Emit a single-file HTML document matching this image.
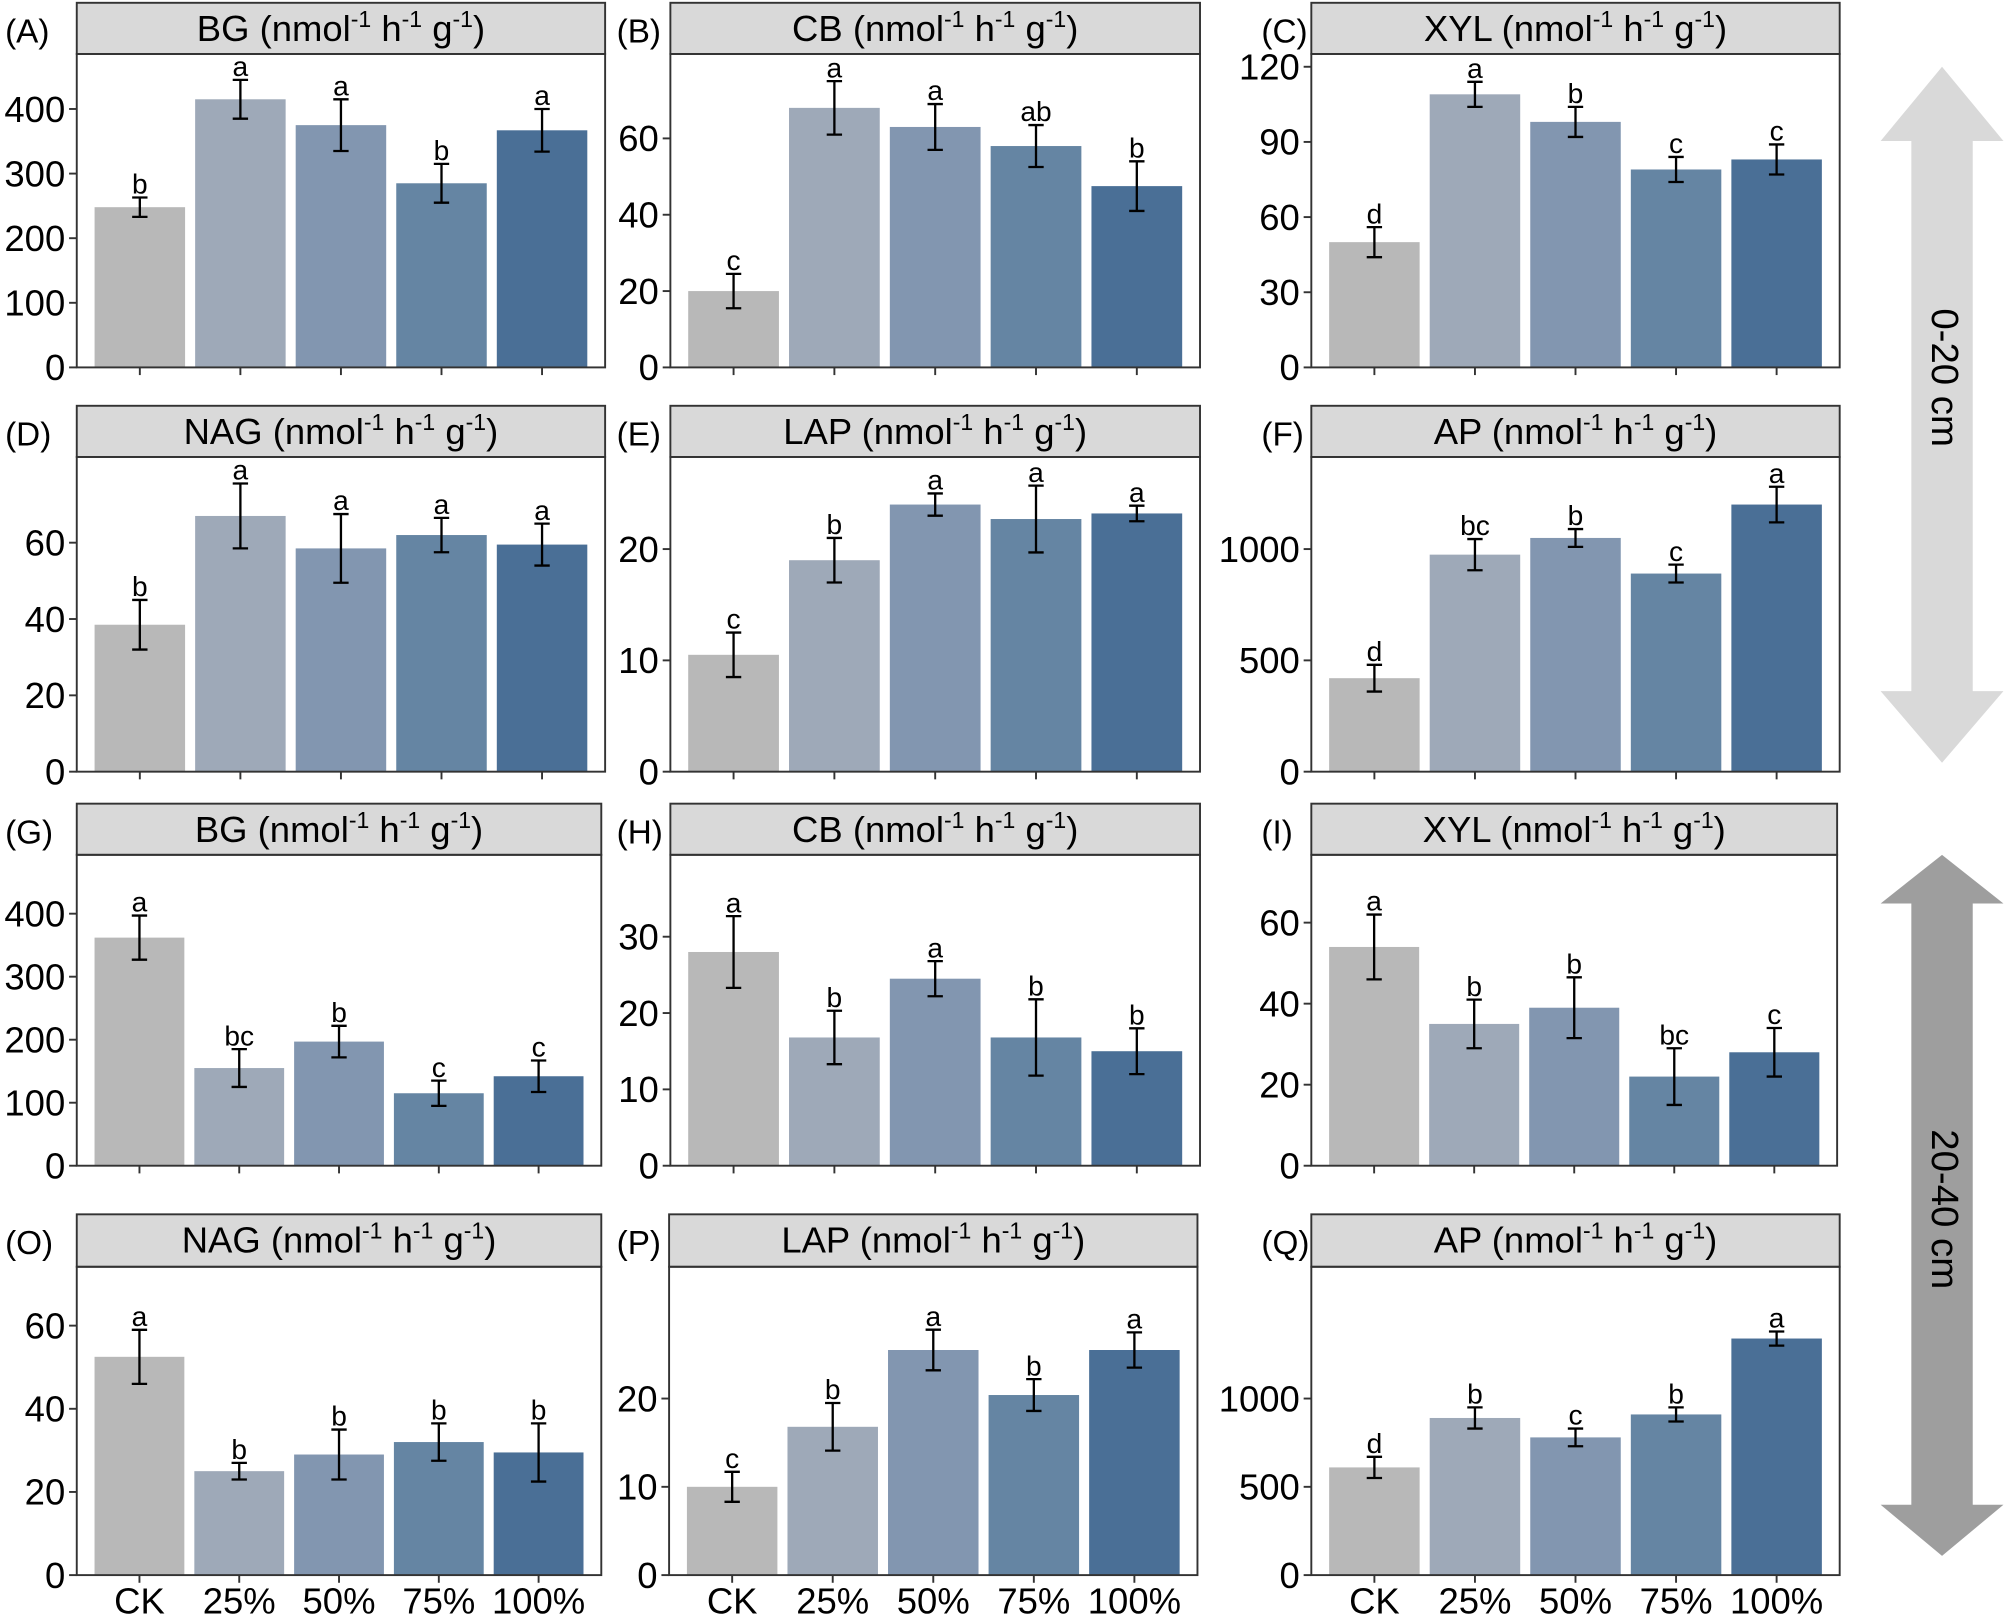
<!DOCTYPE html>
<html><head><meta charset="utf-8"><style>
html,body{margin:0;padding:0;background:#fff;}
svg{display:block;font-family:"Liberation Sans",Arial,sans-serif;}
</style></head><body>
<svg id="fig" width="2006" height="1615" viewBox="0 0 1568 1262" xmlns="http://www.w3.org/2000/svg">
<g>
<polygon points="1518,52 1566,110 1542,110 1542,540 1566,540 1518,596 1470,540 1494,540 1494,110 1470,110" fill="#d9d9d9"/>
<text x="1518" y="295" font-size="30" text-anchor="middle" transform="rotate(90 1518 295)" dominant-baseline="middle">0-20 cm</text>
</g>
<g>
<polygon points="1518,668 1566,706 1542,706 1542,1176 1566,1176 1518,1216 1470,1176 1494,1176 1494,706 1470,706" fill="#9e9e9e"/>
<text x="1518" y="945" font-size="30" text-anchor="middle" transform="rotate(90 1518 945)" dominant-baseline="middle">20-40 cm</text>
</g>
</svg>
<script>
const categories=["CK","25%","50%","75%","100%"];
const colors=["#b8b8b8","#9ea9b8","#8296b0","#6585a3","#4a6f96"];
const meansA=[248,415,375,285,367], errA=[15,30,40,30,33], letA=["b","a","a","b","a"], ticksA=[0,100,200,300,400];
const meansB=[20,68,63,58,47.5], errB=[4.5,7,6,5.5,6.5], letB=["c","a","a","ab","b"], ticksB=[0,20,40,60];
const meansC=[50,109,98,79,83], errC=[6,5,6,5,6], letC=["d","a","b","c","c"], ticksC=[0,30,60,90,120];
const meansD=[38.5,67,58.5,62,59.5], errD=[6.5,8.5,9,4.5,5.5], letD=["b","a","a","a","a"], ticksD=[0,20,40,60];
const meansE=[10.5,19,24,22.7,23.2], errE=[2,2,1,3,0.7], letE=["c","b","a","a","a"], ticksE=[0,10,20];
const meansF=[420,975,1050,890,1200], errF=[60,70,40,40,80], letF=["d","bc","b","c","a"], ticksF=[0,500,1000];
const meansG=[362,155,197,115,142], errG=[35,30,25,20,25], letG=["a","bc","b","c","c"], ticksG=[0,100,200,300,400];
const meansH=[28,16.8,24.5,16.8,15], errH=[4.7,3.5,2.3,5,3], letH=["a","b","a","b","b"], ticksH=[0,10,20,30];
const meansI=[54,35,39,22,28], errI=[8,6,7.5,7,6], letI=["a","b","b","bc","c"], ticksI=[0,20,40,60];
const meansO=[52.5,25,29,32,29.5], errO=[6.5,2,6,4.5,7], letO=["a","b","b","b","b"], ticksO=[0,20,40,60];
const meansP=[10,16.8,25.5,20.4,25.5], errP=[1.7,2.7,2.3,1.8,2], letP=["c","b","a","b","a"], ticksP=[0,10,20];
const meansQ=[610,890,780,910,1340], errQ=[60,60,50,40,40], letQ=["d","b","c","b","a"], ticksQ=[0,500,1000];

const NS="http://www.w3.org/2000/svg";
const svg=document.getElementById("fig");
function mk(tag,attrs,parent){const e=document.createElementNS(NS,tag);for(const k in attrs)e.setAttribute(k,attrs[k]);(parent||svg).appendChild(e);return e;}

// [label, enzyme, means, err, letters, ticks, x0, x1, stripTop, plotTop, plotBottom, refVal, refY, xlabels, labelX]
const panels=[
["A","BG",meansA,errA,letA,ticksA,60,473,2,42,287,400,85,false,4],
["B","CB",meansB,errB,letB,ticksB,524,938,2,42,287,60,108,false,482],
["C","XYL",meansC,errC,letC,ticksC,1025,1438,2,42,287,120,52,false,986],
["D","NAG",meansD,errD,letD,ticksD,60,473,317,357,603,60,424,false,4],
["E","LAP",meansE,errE,letE,ticksE,524,938,317,357,603,20,429,false,482],
["F","AP",meansF,errF,letF,ticksF,1025,1438,317,357,603,1000,429,false,986],
["G","BG",meansG,errG,letG,ticksG,60,470,628,668,911,400,714,false,4],
["H","CB",meansH,errH,letH,ticksH,524,938,628,668,911,30,732,false,482],
["I","XYL",meansI,errI,letI,ticksI,1025,1436,628,668,911,60,721,false,986],
["O","NAG",meansO,errO,letO,ticksO,60,470,949,990,1231,60,1036,true,4],
["P","LAP",meansP,errP,letP,ticksP,523,936,949,990,1231,20,1093,true,482],
["Q","AP",meansQ,errQ,letQ,ticksQ,1025,1438,949,990,1231,1000,1093,true,986]
];

panels.forEach(p=>{
  const [lab,enz,means,err,lets,ticks,x0,x1,sT,pT,pB,refV,refY,xl,lx]=p;
  const g=mk("g",{});
  
  
  const y=v=>pB-(pB-refY)*v/refV;
  const W=x1-x0, slot=(W-20)/5;
  const xc=i=>x0+10+slot*(i+0.5);
  const st=mk("rect",{x:x0,y:sT,width:W,height:pT-sT,fill:"#d9d9d9",stroke:"#333","stroke-width":1.5},g);
  
  
  const tt=mk("text",{x:(x0+x1)/2,y:sT+30,"font-size":28.5,"text-anchor":"middle"},g);
  
  
  tt.innerHTML=enz+' (nmol<tspan font-size="18" dy="-11">-1</tspan><tspan dy="11"> h</tspan><tspan font-size="18" dy="-11">-1</tspan><tspan dy="11"> g</tspan><tspan font-size="18" dy="-11">-1</tspan><tspan dy="11">)</tspan>';
  const pl=mk("text",{x:lx,y:sT+31,"font-size":26},g);
  
  
  pl.textContent="("+lab+")";
  means.forEach((m,i)=>{
    const bw=slot*0.9;
    const b=mk("rect",{x:xc(i)-bw/2,y:y(m),width:bw,height:pB-y(m),fill:colors[i]},g);
    
    
    const t=y(m+err[i]),bt=y(m-err[i]),c=xc(i);
    const eb=mk("path",{d:`M${c-6},${t}H${c+6}M${c},${t}V${bt}M${c-6},${bt}H${c+6}`,stroke:"#000","stroke-width":1.8,fill:"none"},g);
    
    
    const lt=mk("text",{x:c,y:t-3,"font-size":22,"text-anchor":"middle"},g);
    
    
    lt.textContent=lets[i];
    mk("line",{x1:c,x2:c,y1:pB,y2:pB+6,stroke:"#333","stroke-width":1.5},g);
    if(xl){
      const xt=mk("text",{x:c,y:pB+30,"font-size":28.5,"text-anchor":"middle"},g);
      
      
      xt.textContent=categories[i];
    }
  });
  ticks.forEach(v=>{
    mk("line",{x1:x0-6,x2:x0,y1:y(v),y2:y(v),stroke:"#333","stroke-width":1.5},g);
    const yt=mk("text",{x:x0-9,y:y(v)+10,"font-size":28.5,"text-anchor":"end"},g);
    
    
    yt.textContent=v;
  });
  const fr=mk("rect",{x:x0,y:pT,width:W,height:pB-pT,fill:"none",stroke:"#333","stroke-width":1.5},g);
  
  
});
</script>
</body></html>
